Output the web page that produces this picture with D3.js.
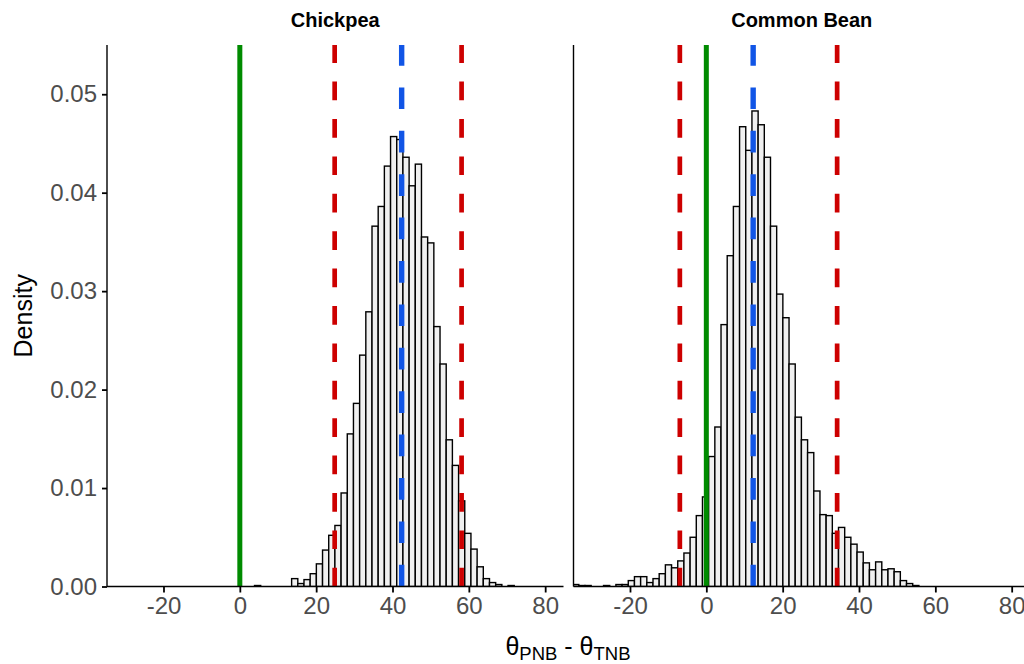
<!DOCTYPE html>
<html>
<head>
<meta charset="utf-8">
<script src="https://cdn.jsdelivr.net/npm/d3@7"></script>
<style>
  html, body { margin: 0; padding: 0; background: #fff; }
  svg { display: block; font-family: "Liberation Sans", Arial, sans-serif; }
</style>
</head>
<body>
<svg id="chart" width="1024" height="664"></svg>
<script>
// ---------------- data ----------------
const panelNames = ["Chickpea", "Common Bean"];
const xTicks = [-20, 0, 20, 40, 60, 80];
const yTicks = [0, 0.01, 0.02, 0.03, 0.04, 0.05];
const yTickLabels = ["0.00", "0.01", "0.02", "0.03", "0.04", "0.05"];
const binWidth = 1.62;

// Chickpea histogram: left edge of first bin, then density of each bin
const chickpeaStart = 3.85;
const chickpeaDensity = [
  0.0001, 0, 0, 0, 0, 0,
  0.0008, 0.0003, 0.0007, 0.0013, 0.0023, 0.0037, 0.0052, 0.0062, 0.0095, 0.0155,
  0.0186, 0.0235, 0.0279, 0.0366, 0.0386, 0.0427, 0.0457, 0.0454, 0.0436, 0.0407,
  0.0429, 0.0355, 0.0349, 0.0264, 0.0226, 0.0149, 0.0123, 0.0087, 0.0054, 0.0038,
  0.0020, 0.0008, 0.0004, 0.0002, 0, 0.0001
];

// Common Bean histogram
const beanStart = -35.03;
const beanDensity = [
  0.0002, 0.0001, 0.0001, 0, 0, 0.0001, 0, 0.0002, 0.0002, 0.0006,
  0.0010, 0.0010, 0.0004, 0.0008, 0.0013, 0.0022, 0.0019, 0.0026, 0.0034, 0.0050,
  0.0072, 0.0091, 0.0132, 0.0162, 0.0266, 0.0336, 0.0386, 0.0467, 0.0443, 0.0483,
  0.0469, 0.0436, 0.0366, 0.0297, 0.0273, 0.0226, 0.0172, 0.0149, 0.0136, 0.0097,
  0.0073, 0.0072, 0.0054, 0.0060, 0.0050, 0.0043, 0.0035, 0.0024, 0.0017, 0.0025,
  0.0017, 0.0018, 0.0015, 0.0006, 0.0003, 0.0001
];

// reference lines per panel
const zeroLine = [0, 0];
const ciLower = [24.85, -6.94];
const ciUpper = [58.1, 34.27];
const medianLine = [42.4, 12.27];

// ---------------- layout ----------------
const svg = d3.select("#chart");
const topY = 45, bottomY = 586.5;
const panelLeft = [107, 573.5];
const panelW = 456.5;
const xDomain = [-34.8, 84.8];
const yDomain = [0, 0.055];

const y = d3.scaleLinear().domain(yDomain).range([bottomY, topY]);

const histData = [
  chickpeaDensity.map((d, i) => ({x0: chickpeaStart + i * binWidth, x1: chickpeaStart + (i + 1) * binWidth, d})),
  beanDensity.map((d, i) => ({x0: beanStart + i * binWidth, x1: beanStart + (i + 1) * binWidth, d}))
];

const defs = svg.append("defs");

panelNames.forEach((name, p) => {
  const x = d3.scaleLinear().domain(xDomain).range([panelLeft[p], panelLeft[p] + panelW]);

  defs.append("clipPath").attr("id", "clip" + p)
    .append("rect").attr("x", panelLeft[p]).attr("y", topY - 2)
    .attr("width", panelW).attr("height", bottomY - topY + 2);

  const g = svg.append("g").attr("clip-path", `url(#clip${p})`);

  // bars
  g.selectAll("rect.bar").data(histData[p]).join("rect")
    .attr("class", "bar")
    .attr("x", d => x(d.x0))
    .attr("width", d => x(d.x1) - x(d.x0))
    .attr("y", d => y(d.d))
    .attr("height", d => y(0) - y(d.d))
    .attr("fill", "#F0F0F0")
    .attr("stroke", "#000")
    .attr("stroke-width", 1.4);

  const vline = (val, color, w, dash) => {
    g.append("path")
      .attr("d", `M${x(val)},${y(0)}L${x(val)},${topY}`)
      .attr("stroke", color)
      .attr("stroke-width", w)
      .attr("fill", "none")
      .attr("stroke-dasharray", dash || null);
  };
  vline(ciLower[p], "#CD0000", 4.7, "18.7 18.7");
  vline(ciUpper[p], "#CD0000", 4.7, "18.7 18.7");
  vline(medianLine[p], "#1155E6", 5.4, "21.7 21.7");
  vline(zeroLine[p], "#008B00", 5, null);

  // x axis
  const xAxis = svg.append("g").attr("transform", `translate(0,${bottomY})`)
    .call(d3.axisBottom(x).tickValues(xTicks).tickSize(6).tickPadding(4).tickFormat(d3.format("d")));
  xAxis.select(".domain").attr("stroke", "#000").attr("stroke-width", 1.4)
    .attr("d", `M${panelLeft[p]},0H${panelLeft[p] + panelW}`);
  xAxis.selectAll(".tick line").attr("stroke", "#000").attr("stroke-width", 1.8);
  xAxis.selectAll(".tick text").attr("fill", "#4D4D4D").attr("font-size", 24)
    .attr("font-family", "Liberation Sans, Arial, sans-serif")
    .text(d => d < 0 ? "-" + Math.abs(d) : d);

  // y axis line
  svg.append("line")
    .attr("x1", panelLeft[p]).attr("x2", panelLeft[p])
    .attr("y1", topY).attr("y2", bottomY)
    .attr("stroke", "#000").attr("stroke-width", 1.4);

  if (p === 0) {
    const yAxis = svg.append("g").attr("transform", `translate(${panelLeft[p]},0)`)
      .call(d3.axisLeft(y).tickValues(yTicks).tickSize(5).tickPadding(5)
        .tickFormat((d, i) => yTickLabels[i]));
    yAxis.select(".domain").remove();
    yAxis.selectAll(".tick line").attr("stroke", "#000").attr("stroke-width", 1.8);
    yAxis.selectAll(".tick text").attr("fill", "#4D4D4D").attr("font-size", 24)
      .attr("font-family", "Liberation Sans, Arial, sans-serif");
  }

  // strip title
  svg.append("text")
    .attr("x", panelLeft[p] + panelW / 2)
    .attr("y", 27)
    .attr("text-anchor", "middle")
    .attr("font-weight", "bold")
    .attr("font-size", 20)
    .attr("fill", "#000")
    .text(name);
});

// y title
svg.append("text")
  .attr("transform", `translate(32,${(topY + bottomY) / 2}) rotate(-90)`)
  .attr("text-anchor", "middle")
  .attr("font-size", 25)
  .attr("fill", "#000")
  .text("Density");

// x title with subscripts
const xt = svg.append("text")
  .attr("x", 568).attr("y", 655)
  .attr("text-anchor", "middle")
  .attr("font-size", 25)
  .attr("fill", "#000");
xt.append("tspan").text("θ");
xt.append("tspan").attr("font-size", 18.5).attr("dy", 5).text("PNB");
xt.append("tspan").attr("dy", -5).text(" - θ");
xt.append("tspan").attr("font-size", 18.5).attr("dy", 5).text("TNB");
</script>
</body>
</html>
